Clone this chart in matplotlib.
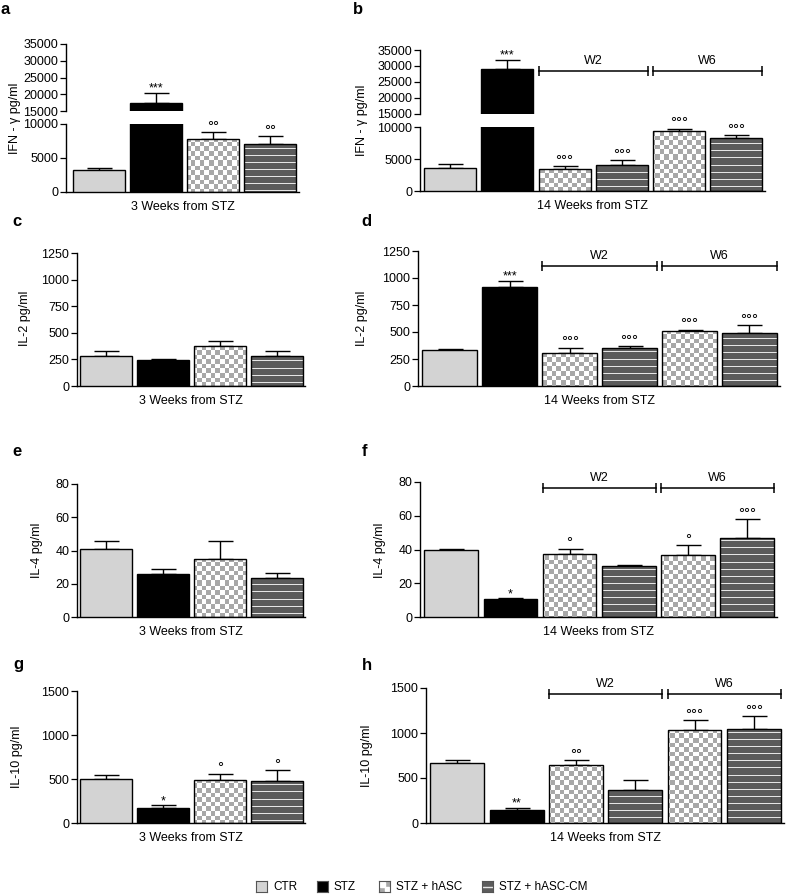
import numpy as np
import matplotlib
matplotlib.use("Agg")
import matplotlib.pyplot as plt
from matplotlib.transforms import blended_transform_factory

plt.rcParams['font.family'] = ['Liberation Sans', 'DejaVu Sans']

# groups
groups = ["CTR", "STZ", "STZ + hASC", "STZ + hASC-CM"]
kinds_3w = ["ctr", "stz", "hasc", "cm"]
kinds_14w = ["ctr", "stz", "hasc", "cm", "hasc", "cm"]

# IFN-gamma (pg/ml)
ifn_3w = [3200, 17400, 7800, 7000]
ifn_3w_err = [350, 3000, 1000, 1200]
ifn_3w_sig = ["", "***", "°°", "°°"]
ifn_14w = [3600, 29000, 3400, 4000, 9400, 8300]
ifn_14w_err = [550, 3000, 450, 850, 350, 400]
ifn_14w_sig = ["", "***", "°°°", "°°°", "°°°", "°°°"]

# IL-2
il2_3w = [280, 240, 375, 285]
il2_3w_err = [50, 15, 50, 40]
il2_3w_sig = ["", "", "", ""]
il2_14w = [330, 915, 305, 355, 505, 490]
il2_14w_err = [10, 60, 50, 12, 15, 75]
il2_14w_sig = ["", "***", "°°°", "°°°", "°°°", "°°°"]

# IL-4
il4_3w = [41, 26, 35, 23.5]
il4_3w_err = [5, 3, 11, 3]
il4_3w_sig = ["", "", "", ""]
il4_14w = [40, 10.5, 37.5, 30, 36.5, 47]
il4_14w_err = [0.5, 0.5, 3, 0.7, 6, 11]
il4_14w_sig = ["", "*", "°", "", "°", "°°°"]

# IL-10
il10_3w = [500, 170, 485, 480]
il10_3w_err = [45, 30, 75, 120]
il10_3w_sig = ["", "*", "°", "°"]
il10_14w = [665, 140, 650, 365, 1035, 1045]
il10_14w_err = [35, 25, 50, 115, 110, 140]
il10_14w_sig = ["", "**", "°°", "", "°°°", "°°°"]

W, H = 787, 894
fig = plt.figure(figsize=(W / 100, H / 100), dpi=100)

BAR_W = 0.91
FS = 9


def add_ax(l, t, r, b):
    return fig.add_axes([l / W, 1 - b / H, (r - l) / W, (b - t) / H])


def pattern(ax, kind):
    w = int(round(ax.bbox.width))
    h = int(round(ax.bbox.height))
    yy, xx = np.mgrid[0:h, 0:w]
    if kind == "hasc":
        cell = 4.6
        mask = ((np.floor(xx / cell) + np.floor(yy / cell)) % 2).astype(bool)
        img = np.where(mask[..., None], [0.66, 0.66, 0.66], [1.0, 1.0, 1.0])
    else:
        mask = (yy % 7) == 3
        img = np.where(mask[..., None], [0.9, 0.9, 0.9], [0.36, 0.36, 0.36])
    return img


def style_ax(ax, xlim, ylim, yticks, bottom=True):
    ax.set_xlim(*xlim)
    ax.set_ylim(*ylim)
    ax.set_yticks(yticks)
    ax.set_xticks([])
    for s in ["top", "right"]:
        ax.spines[s].set_visible(False)
    ax.spines["bottom"].set_visible(bottom)
    for s in ["left", "bottom"]:
        ax.spines[s].set_linewidth(1.0)
    ax.tick_params(axis="y", length=4, width=0.9, pad=1.5, labelsize=FS)
    ax.patch.set_alpha(0)


def draw_bars(ax, vals, errs, sigs, kinds):
    x = np.arange(len(vals))
    xl, yl = ax.get_xlim(), ax.get_ylim()
    ax.errorbar(x, vals, yerr=[np.zeros(len(errs)), errs], fmt="none",
                ecolor="black", elinewidth=1.0, capsize=9, capthick=1.0, zorder=1)
    for i, (v, k) in enumerate(zip(vals, kinds)):
        if k == "ctr":
            ax.bar(i, v, BAR_W, color="#d3d3d3", edgecolor="black", lw=1.0, zorder=3)
        elif k == "stz":
            ax.bar(i, v, BAR_W, color="black", edgecolor="black", lw=1.0, zorder=3)
        else:
            bar = ax.bar(i, v, BAR_W, facecolor="none", edgecolor="black", lw=1.0, zorder=3)[0]
            im = ax.imshow(pattern(ax, k), extent=(xl[0], xl[1], yl[0], yl[1]),
                           aspect="auto", interpolation="nearest", zorder=2)
            im.set_clip_path(bar)
    for i, (v, e, s) in enumerate(zip(vals, errs, sigs)):
        if s:
            fs = 9 if "*" in s else 11
            ax.annotate(s, (i, v + e), xytext=(0, 1), textcoords="offset points",
                        ha="center", va="baseline", fontsize=fs)
    ax.set_xlim(*xl)
    ax.set_ylim(*yl)


def brackets(ax, yfrac):
    tr = blended_transform_factory(ax.transData, ax.transAxes)
    for lab, (a, b) in [("W2", (2, 3)), ("W6", (4, 5))]:
        x0, x1 = a - BAR_W / 2, b + BAR_W / 2
        ax.plot([x0, x1], [yfrac, yfrac], color="black", lw=1.1, transform=tr, clip_on=False)
        ax.plot([x0, x1], [yfrac, yfrac], ls="none", marker="|", ms=7, mew=1.1,
                color="black", transform=tr, clip_on=False)
        ax.annotate(lab, ((x0 + x1) / 2, yfrac), xycoords=tr, xytext=(0, 3),
                    textcoords="offset points", ha="center", va="bottom", fontsize=FS)


def xlabel(ax, text):
    ax.annotate(text, (0.5, 0), xycoords="axes fraction", xytext=(0, -11),
                textcoords="offset points", ha="center", va="center", fontsize=FS)


def panel_letter(x, y, s):
    fig.text(x / W, 1 - y / H, s, fontsize=12, fontweight="bold", ha="center", va="center")


def ylabel_text(x, y, s):
    fig.text(x / W, 1 - y / H, s, fontsize=FS, rotation=90, ha="center", va="center")


xl3 = (-0.51, 3.49)
xl14 = (-0.53, 5.51)

# panel a (broken axis)
a_lo = add_ax(66, 124, 299, 192)
style_ax(a_lo, (-0.58, 3.51), (0, 10000), [0, 5000, 10000])
draw_bars(a_lo, ifn_3w, ifn_3w_err, ["" if v > 10000 else s for v, s in zip(ifn_3w, ifn_3w_sig)], kinds_3w)
a_hi = add_ax(66, 44, 299, 111)
style_ax(a_hi, (-0.58, 3.51), (15000, 35000), [15000, 20000, 25000, 30000, 35000], bottom=False)
draw_bars(a_hi, ifn_3w, ifn_3w_err, [s if v > 10000 else "" for v, s in zip(ifn_3w, ifn_3w_sig)], kinds_3w)
xlabel(a_lo, "3 Weeks from STZ")

# panel b (broken axis)
b_lo = add_ax(420, 127, 765, 191)
style_ax(b_lo, xl14, (0, 10000), [0, 5000, 10000])
draw_bars(b_lo, ifn_14w, ifn_14w_err, ["" if v > 10000 else s for v, s in zip(ifn_14w, ifn_14w_sig)], kinds_14w)
b_hi = add_ax(420, 50, 765, 114)
style_ax(b_hi, xl14, (15000, 35000), [15000, 20000, 25000, 30000, 35000], bottom=False)
draw_bars(b_hi, ifn_14w, ifn_14w_err, [s if v > 10000 else "" for v, s in zip(ifn_14w, ifn_14w_sig)], kinds_14w)
brackets(b_hi, 0.67)
xlabel(b_lo, "14 Weeks from STZ")

# panel c
c = add_ax(77, 253, 305, 386)
style_ax(c, xl3, (0, 1250), [0, 250, 500, 750, 1000, 1250])
draw_bars(c, il2_3w, il2_3w_err, il2_3w_sig, kinds_3w)
xlabel(c, "3 Weeks from STZ")

# panel d
d = add_ax(418, 251, 780, 386)
style_ax(d, xl14, (0, 1250), [0, 250, 500, 750, 1000, 1250])
draw_bars(d, il2_14w, il2_14w_err, il2_14w_sig, kinds_14w)
brackets(d, 0.89)
xlabel(d, "14 Weeks from STZ")

# panel e
e = add_ax(77, 484, 305, 617)
style_ax(e, xl3, (0, 80), [0, 20, 40, 60, 80])
draw_bars(e, il4_3w, il4_3w_err, il4_3w_sig, kinds_3w)
xlabel(e, "3 Weeks from STZ")

# panel f
f = add_ax(420, 482, 777, 617)
style_ax(f, xl14, (0, 80), [0, 20, 40, 60, 80])
draw_bars(f, il4_14w, il4_14w_err, il4_14w_sig, kinds_14w)
brackets(f, 0.955)
xlabel(f, "14 Weeks from STZ")

# panel g
g = add_ax(77, 691, 305, 823)
style_ax(g, xl3, (0, 1500), [0, 500, 1000, 1500])
draw_bars(g, il10_3w, il10_3w_err, il10_3w_sig, kinds_3w)
xlabel(g, "3 Weeks from STZ")

# panel h
h = add_ax(426, 688, 784, 823)
style_ax(h, xl14, (0, 1500), [0, 500, 1000, 1500])
draw_bars(h, il10_14w, il10_14w_err, il10_14w_sig, kinds_14w)
brackets(h, 0.955)
xlabel(h, "14 Weeks from STZ")

# letters and y labels
for x, y, s in [(5, 10, "a"), (358, 10, "b"), (17, 222, "c"), (366, 222, "d"),
                (17, 452, "e"), (365, 452, "f"), (18, 665, "g"), (367, 665, "h")]:
    panel_letter(x, y, s)
for x, y, s in [(15, 118, "IFN - γ pg/ml"), (362, 120, "IFN - γ pg/ml"),
                (25, 318, "IL-2 pg/ml"), (362, 318, "IL-2 pg/ml"),
                (37, 550, "IL-4 pg/ml"), (380, 550, "IL-4 pg/ml"),
                (17, 757, "IL-10 pg/ml"), (367, 756, "IL-10 pg/ml")]:
    ylabel_text(x, y, s)

# legend drawn with small pattern swatches
for (l, t), lab, k in zip([(256, 881), (317, 881), (379, 881), (482, 881)], groups, kinds_3w):
    sw = add_ax(l, t, l + 11, t + 11)
    sw.set_xticks([])
    sw.set_yticks([])
    if k == "ctr":
        sw.set_facecolor("#d3d3d3")
    elif k == "stz":
        sw.set_facecolor("black")
    elif k == "hasc":
        sw.set_facecolor("#a8a8a8")
        sw.add_patch(plt.Rectangle((0.5, 0.1), 0.4, 0.4, color="white", transform=sw.transAxes))
        sw.add_patch(plt.Rectangle((0.1, 0.5), 0.4, 0.4, color="white", transform=sw.transAxes))
    else:
        sw.set_facecolor("#5c5c5c")
        sw.axhline(0.5, color="#e6e6e6", lw=1.0)
    for s in sw.spines.values():
        s.set_linewidth(0.8)
        s.set_color("#555555")
    fig.text((l + 17) / W, 1 - (t + 5.5) / H, lab, fontsize=8.5, ha="left", va="center")

fig.savefig("out.png", dpi=100)
